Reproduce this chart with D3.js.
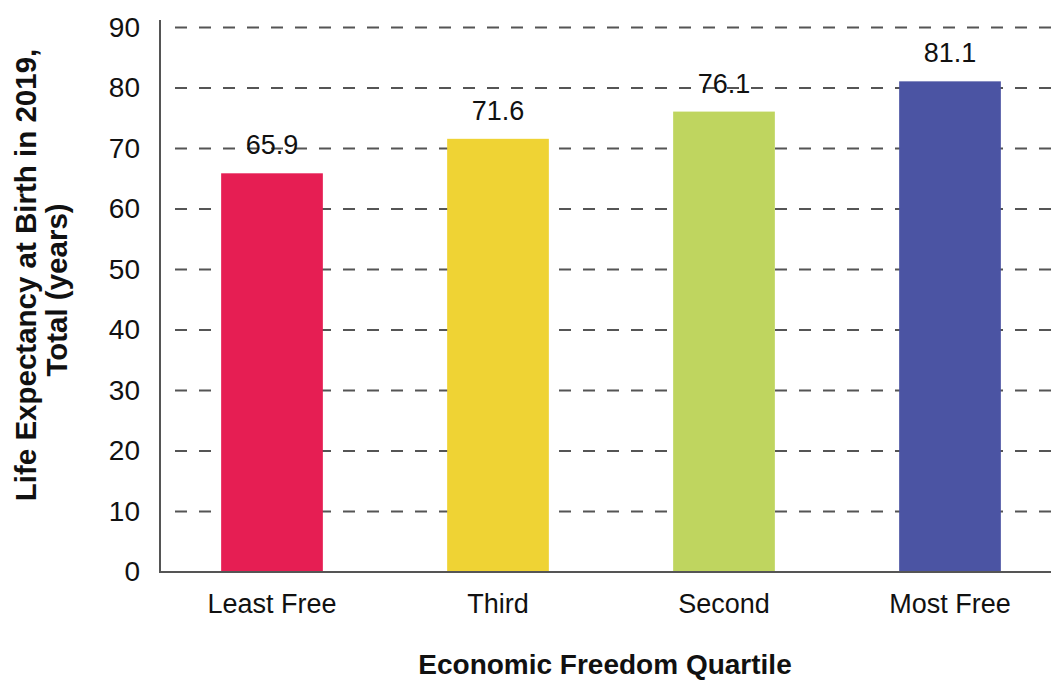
<!DOCTYPE html>
<html>
<head>
<meta charset="utf-8">
<script src="https://cdn.jsdelivr.net/npm/d3@7/dist/d3.min.js"></script>
<style>
  html, body { margin: 0; padding: 0; background: #fff; }
  svg { display: block; font-family: "Liberation Sans", Arial, sans-serif; }
</style>
</head>
<body>
<svg id="chart" width="1051" height="682"></svg>
<script>
// Life expectancy by economic freedom quartile
const categories = ["Least Free", "Third", "Second", "Most Free"];
const values = [65.9, 71.6, 76.1, 81.1];
const barColors = ["#E61E53", "#EFD334", "#BFD55F", "#4B54A3"];
const yTicks = [0, 10, 20, 30, 40, 50, 60, 70, 80, 90];

const svg = d3.select("#chart");

const x = d3.scaleBand()
  .domain(categories)
  .range([159, 1063])
  .paddingInner(0.55)
  .paddingOuter(0.275);

const y = d3.scaleLinear()
  .domain([0, 90])
  .range([572, 27.5]);

// dashed horizontal gridlines
svg.append("g")
  .selectAll("line")
  .data(yTicks.filter(d => d > 0))
  .join("line")
  .attr("x1", 175)
  .attr("x2", 1051)
  .attr("y1", d => y(d))
  .attr("y2", d => y(d))
  .attr("stroke", "#555")
  .attr("stroke-width", 2)
  .attr("stroke-dasharray", "12 12");

// bars
svg.append("g")
  .selectAll("rect")
  .data(values)
  .join("rect")
  .attr("x", (d, i) => x(categories[i]))
  .attr("width", x.bandwidth())
  .attr("y", d => y(d))
  .attr("height", d => y(0) - y(d))
  .attr("fill", (d, i) => barColors[i]);

// y axis
const yAxis = d3.axisLeft(y).tickValues(yTicks).tickSize(0).tickPadding(20);
const gy = svg.append("g").attr("transform", "translate(160,0)").call(yAxis);
gy.select(".domain").remove();
gy.selectAll("text")
  .attr("font-size", 28)
  .attr("fill", "#111")
  .attr("font-family", "Liberation Sans, Arial, sans-serif");
svg.append("line")
  .attr("x1", 160).attr("x2", 160)
  .attr("y1", 20).attr("y2", y(0) + 1)
  .attr("stroke", "#555").attr("stroke-width", 2);

// x axis
const xAxis = d3.axisBottom(x).tickSize(0).tickPadding(22);
const gx = svg.append("g").attr("transform", `translate(0,${y(0)})`).call(xAxis);
gx.select(".domain").remove();
gx.selectAll("text")
  .attr("font-size", 27)
  .attr("fill", "#111")
  .attr("font-family", "Liberation Sans, Arial, sans-serif");
svg.append("line")
  .attr("x1", 160).attr("x2", 1051)
  .attr("y1", y(0)).attr("y2", y(0))
  .attr("stroke", "#555").attr("stroke-width", 2);

// value labels
svg.append("g")
  .selectAll("text")
  .data(values)
  .join("text")
  .attr("x", (d, i) => x(categories[i]) + x.bandwidth() / 2)
  .attr("y", d => y(d) - 19)
  .attr("text-anchor", "middle")
  .attr("font-size", 27)
  .attr("fill", "#111")
  .text(d => d.toFixed(1));

// axis titles
svg.append("text")
  .attr("x", 605)
  .attr("y", 674)
  .attr("text-anchor", "middle")
  .attr("font-size", 28)
  .attr("font-weight", "bold")
  .attr("fill", "#111")
  .text("Economic Freedom Quartile");

const yTitle = svg.append("text")
  .attr("transform", "rotate(-90)")
  .attr("text-anchor", "middle")
  .attr("font-size", 29.5)
  .attr("font-weight", "bold")
  .attr("fill", "#111");
yTitle.append("tspan").attr("x", -275).attr("y", 36).text("Life Expectancy at Birth in 2019,");
yTitle.append("tspan").attr("x", -290).attr("y", 67).text("Total (years)");
</script>
</body>
</html>
